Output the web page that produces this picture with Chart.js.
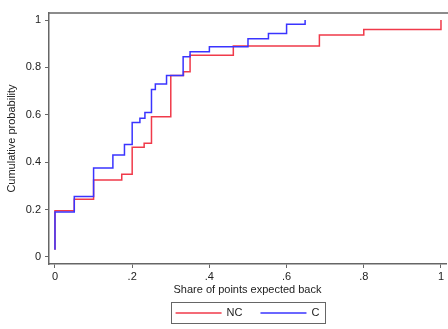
<!DOCTYPE html>
<html>
<head>
<meta charset="utf-8">
<script src="https://cdn.jsdelivr.net/npm/chart.js@4"></script>
<style>
html,body{margin:0;padding:0;background:#fff;}
#wrap{width:448px;height:329px;}
</style>
</head>
<body>
<div id="wrap"><canvas id="myChart" width="448" height="329"></canvas></div>
<script>
// step points (x = share, y = cumulative prob)
var ncX = [0, 0, 0.05, 0.10, 0.173, 0.20, 0.231, 0.25, 0.30, 0.333, 0.35, 0.462, 0.685, 0.80, 1.0];
var ncY = [0.03, 0.195, 0.243, 0.325, 0.349, 0.463, 0.48, 0.592, 0.766, 0.782, 0.852, 0.891, 0.937, 0.96, 1.0];
var cX = [0, 0, 0.05, 0.10, 0.15, 0.18, 0.20, 0.22, 0.233, 0.25, 0.26, 0.289, 0.332, 0.35, 0.40, 0.50, 0.553, 0.60, 0.648];
var cY = [0.03, 0.19, 0.255, 0.375, 0.43, 0.475, 0.568, 0.585, 0.61, 0.707, 0.73, 0.766, 0.845, 0.866, 0.887, 0.921, 0.943, 0.983, 1.0];
var seriesNames = ['NC', 'C'];
var xTicks = [0, 0.2, 0.4, 0.6, 0.8, 1];
var xTickLabels = ['0', '.2', '.4', '.6', '.8', '1'];
var yTicks = [0, 0.2, 0.4, 0.6, 0.8, 1];
var yTickLabels = ['0', '0.2', '0.4', '0.6', '0.8', '1'];

Chart.defaults.font.family = '"Liberation Sans", Arial, sans-serif';
Chart.defaults.font.size = 11;
Chart.defaults.color = '#222';

function puntos(xs, ys){
    var p = [];
    for (var i = 0; i < xs.length; i++) p.push({x: xs[i], y: ys[i]});
    return p;
}

// top frame line + boxed legend like stata
var marco = {
    id: 'marco',
    afterDraw: function(chart){
        var ctx = chart.ctx;
        var a = chart.chartArea;
        ctx.save();
        ctx.strokeStyle = '#666';
        ctx.lineWidth = 1.5;
        ctx.beginPath();
        ctx.moveTo(a.left, a.top);
        ctx.lineTo(chart.width, a.top);
        ctx.stroke();

        ctx.font = '11px "Liberation Sans", Arial, sans-serif';
        var largo = 46, gap = 5, sep = 18, pad = 5;
        var sets = chart.data.datasets;
        var total = 0;
        sets.forEach(function(d, i){
            total += largo + gap + ctx.measureText(d.label).width;
            if (i > 0) total += sep;
        });
        var cx = (a.left + a.right) / 2;
        var x = cx - total / 2;
        var y = chart.height - 16;
        ctx.strokeStyle = '#666';
        ctx.lineWidth = 1;
        ctx.strokeRect(Math.round(x - pad) + 0.5, Math.round(y - 11) + 0.5, Math.round(total + 2 * pad), 21);
        ctx.textBaseline = 'middle';
        ctx.textAlign = 'left';
        sets.forEach(function(d){
            ctx.strokeStyle = d.borderColor;
            ctx.lineWidth = 1.5;
            ctx.beginPath();
            ctx.moveTo(x, y);
            ctx.lineTo(x + largo, y);
            ctx.stroke();
            x += largo + gap;
            ctx.fillStyle = '#222';
            ctx.fillText(d.label, x, y);
            x += ctx.measureText(d.label).width + sep;
        });
        ctx.restore();
    }
};

var ctx = document.getElementById('myChart');
var chart = new Chart(ctx, {
    type: 'line',
    data: {
        datasets: [{
            label: seriesNames[0],
            data: puntos(ncX, ncY),
            borderColor: '#f03a4a',
            borderWidth: 1.5,
            stepped: true,
            pointRadius: 0,
            fill: false,
            order: 1
        }, {
            label: seriesNames[1],
            data: puntos(cX, cY),
            borderColor: '#3a34ff',
            borderWidth: 1.5,
            stepped: true,
            pointRadius: 0,
            fill: false,
            order: 0
        }]
    },
    options: {
        responsive: false,
        animation: false,
        layout: { padding: { top: 13, right: 2, bottom: 31, left: 0 } },
        plugins: {
            legend: { display: false },
            tooltip: { enabled: false }
        },
        scales: {
            x: {
                type: 'linear',
                min: -0.0155,
                max: 1.013,
                afterBuildTicks: function(s){ s.ticks = xTicks.map(function(v){ return {value: v}; }); },
                afterFit: function(s){ s.height = 34; },
                ticks: {
                    callback: function(v, i){ return xTickLabels[i]; },
                    padding: 2,
                    maxRotation: 0,
                    autoSkip: false,
                    color: '#222'
                },
                grid: { drawOnChartArea: false, drawTicks: true, tickLength: 4, tickColor: '#666', tickWidth: 1 },
                border: { display: true, color: '#666', width: 1.5 },
                title: { display: true, text: 'Share of points expected back', color: '#222', padding: { top: 0, bottom: 1 } }
            },
            y: {
                type: 'linear',
                min: -0.03,
                max: 1.03,
                afterBuildTicks: function(s){ s.ticks = yTicks.map(function(v){ return {value: v}; }); },
                afterFit: function(s){ s.width = 49; },
                ticks: {
                    callback: function(v, i){ return yTickLabels[i]; },
                    padding: 4,
                    autoSkip: false,
                    color: '#222'
                },
                grid: { drawOnChartArea: false, drawTicks: true, tickLength: 4, tickColor: '#666', tickWidth: 1 },
                border: { display: true, color: '#666', width: 1.5 },
                title: { display: true, text: 'Cumulative probability', color: '#222', padding: { top: 5, bottom: 0 } }
            }
        }
    },
    plugins: [marco]
});
</script>
</body>
</html>
